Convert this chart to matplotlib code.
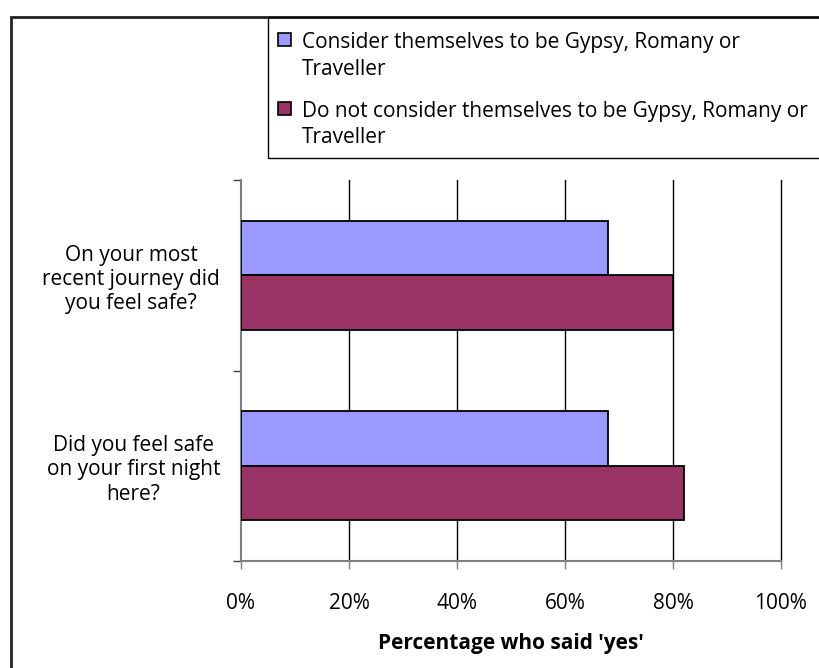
import matplotlib
matplotlib.use("Agg")
import matplotlib.pyplot as plt
from matplotlib.patches import Rectangle
import numpy as np

categories = ["On your most\nrecent journey did\nyou feel safe?",
              "Did you feel safe\non your first night\nhere?"]
series_names = ["Consider themselves to be Gypsy, Romany or\nTraveller",
                "Do not consider themselves to be Gypsy, Romany or\nTraveller"]
gypsy = [68, 68]
non_gypsy = [80, 82]
xticks = [0, 20, 40, 60, 80, 100]
xtick_labels = ["0%", "20%", "40%", "60%", "80%", "100%"]
colors = ["#9999FF", "#993366"]

plt.rcParams['font.family'] = ['Open Sans', 'DejaVu Sans']
FS = 15

W, H = 820, 668
fig = plt.figure(figsize=(W / 100, H / 100), dpi=100)

def fx(px):
    return px / W

def fy(py):
    return 1 - py / H

# outer chart frame (extends beyond right/bottom edge)
fig.patches.append(Rectangle((fx(11), -0.05), 1.2, fy(17) + 0.05,
                             transform=fig.transFigure, fill=False,
                             edgecolor="#222222", linewidth=2, zorder=0))

ax = fig.add_axes([fx(241), fy(561), fx(781) - fx(241), fy(180) - fy(561)])

y = np.arange(len(categories))
h = 0.286
ax.barh(y - h / 2, gypsy, height=h, color=colors[0], edgecolor="black",
        linewidth=1.3, zorder=3, label=series_names[0])
ax.barh(y + h / 2, non_gypsy, height=h, color=colors[1], edgecolor="black",
        linewidth=1.3, zorder=3, label=series_names[1])

ax.set_xlim(0, 100)
ax.set_ylim(len(categories) - 0.5, -0.5)

for xv in xticks[1:]:
    ax.axvline(xv, color="black", linewidth=1.0, zorder=1, clip_on=False)

for s in ["top", "right"]:
    ax.spines[s].set_visible(False)
for s in ["left", "bottom"]:
    ax.spines[s].set_color("#808080")
    ax.spines[s].set_linewidth(1.5)

ax.set_xticks(xticks)
ax.set_xticklabels(xtick_labels, fontsize=FS)
ax.tick_params(axis="x", direction="out", length=5.8, width=1, color="#808080",
               pad=17)

ax.set_yticks([-0.5, 0.5, 1.5])
ax.set_yticklabels([])
ax.tick_params(axis="y", which="major", direction="out", length=5.8, width=1,
               color="#404040")
ax.set_yticks(y, minor=True)
ax.set_yticklabels(categories, minor=True, fontsize=FS, ha="right",
                   multialignment="center", linespacing=1.2)
ax.tick_params(axis="y", which="minor", length=0, pad=15)

ax.set_xlabel("Percentage who said 'yes'", fontsize=FS, fontweight="bold",
              labelpad=14)

# legend (manual, box runs past the right edge like the reference)
fig.patches.append(Rectangle((fx(268), fy(158)), 1.0, fy(17) - fy(158),
                             transform=fig.transFigure, fill=False,
                             edgecolor="black", linewidth=1.0, zorder=5))
baselines = [[48, 75], [117, 143]]
for i, (name, col) in enumerate(zip(series_names, colors)):
    sq_top = baselines[i][0] - 15
    fig.patches.append(Rectangle((fx(278), fy(sq_top + 13)), fx(13), fy(sq_top) - fy(sq_top + 13),
                                 transform=fig.transFigure, facecolor=col,
                                 edgecolor="black", linewidth=1.2, zorder=6))
    for line, bl in zip(name.split("\n"), baselines[i]):
        fig.text(fx(302), fy(bl), line, fontsize=FS, ha="left", va="baseline",
                 transform=fig.transFigure)

fig.savefig("out.png", dpi=100, facecolor="white")
